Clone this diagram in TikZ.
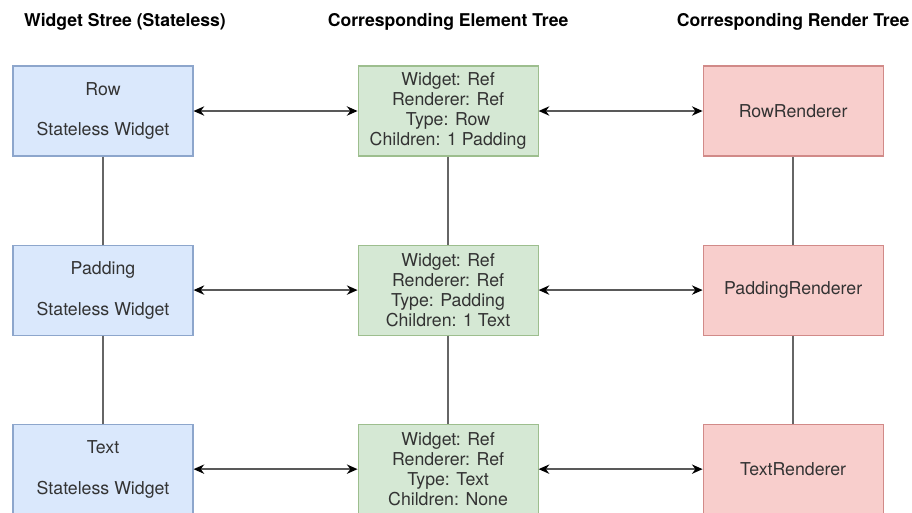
\documentclass[tikz,border=0pt]{standalone}
\usepackage{fontspec}
\setmainfont{TeX Gyre Heros}
\usetikzlibrary{arrows.meta,positioning}
\definecolor{wfill}{HTML}{DAE8FC}
\definecolor{wdraw}{HTML}{8DA6CC}
\definecolor{efill}{HTML}{D5E8D4}
\definecolor{edraw}{HTML}{9DBE8E}
\definecolor{rfill}{HTML}{F8CECC}
\definecolor{rdraw}{HTML}{D18A88}
\definecolor{txt}{HTML}{333333}

\begin{document}
\begin{tikzpicture}[
			node distance=66pt and 123pt,
			box/.style={draw, line width=0.8pt, minimum width=135pt, minimum height=67.5pt, align=center, inner sep=0pt, text=txt, font=\fontsize{13.3}{15.2}\selectfont},
			widget/.style={box, fill=wfill, draw=wdraw},
			elem/.style={box, fill=efill, draw=edraw},
			rend/.style={box, fill=rfill, draw=rdraw},
			title/.style={inner sep=0pt, font=\bfseries\fontsize{13.2}{15}\selectfont},
			arr/.style={{Stealth[length=8pt,width=7pt,color=black]}-{Stealth[length=8pt,width=7pt,color=black]}, line width=1.2pt, draw=black!65},
			link/.style={draw=black!60, line width=1.1pt}
			]
			\useasboundingbox (0,0) rectangle (684pt,-384pt);
			
			% widget column
			\node[widget] (rowW) at (77.25pt,-83.25pt) {Row\\[15.4pt]Stateless Widget};
			\node[widget, below=of rowW] (padW) {Padding\\[15.4pt]Stateless Widget};
			\node[widget, below=of padW] (textW) {Text\\[15.4pt]Stateless Widget};
			
			% element column
			\node[elem, right=of rowW] (rowE) {Widget: Ref\\Renderer: Ref\\Type: Row\\Children: 1 Padding};
			\node[elem, right=of padW] (padE) {Widget: Ref\\Renderer: Ref\\Type: Padding\\Children: 1 Text};
			\node[elem, right=of textW] (textE) {Widget: Ref\\Renderer: Ref\\Type: Text\\Children: None};
			
			% render column
			\node[rend, right=of rowE] (rowR) {RowRenderer};
			\node[rend, right=of padE] (padR) {PaddingRenderer};
			\node[rend, right=of textE] (textR) {TextRenderer};
			
			\node[title, above=26.5pt of rowW, xshift=16.5pt] (wTitle) {Widget Stree (Stateless)};
			\node[title, above=26.5pt of rowE] (eTitle) {Corresponding Element Tree};
			\node[title, above=26.5pt of rowR] (rTitle) {Corresponding Render Tree};
			
			\draw[link] (rowW) -- (padW);
			\draw[link] (padW) -- (textW);
			\draw[link] (rowE) -- (padE);
			\draw[link] (padE) -- (textE);
			\draw[link] (rowR) -- (padR);
			\draw[link] (padR) -- (textR);
			
			\draw[arr] (rowW) -- (rowE);
			\draw[arr] (rowE) -- (rowR);
			\draw[arr] (padW) -- (padE);
			\draw[arr] (padE) -- (padR);
			\draw[arr] (textW) -- (textE);
			\draw[arr] (textE) -- (textR);
		\end{tikzpicture}
\end{document}
